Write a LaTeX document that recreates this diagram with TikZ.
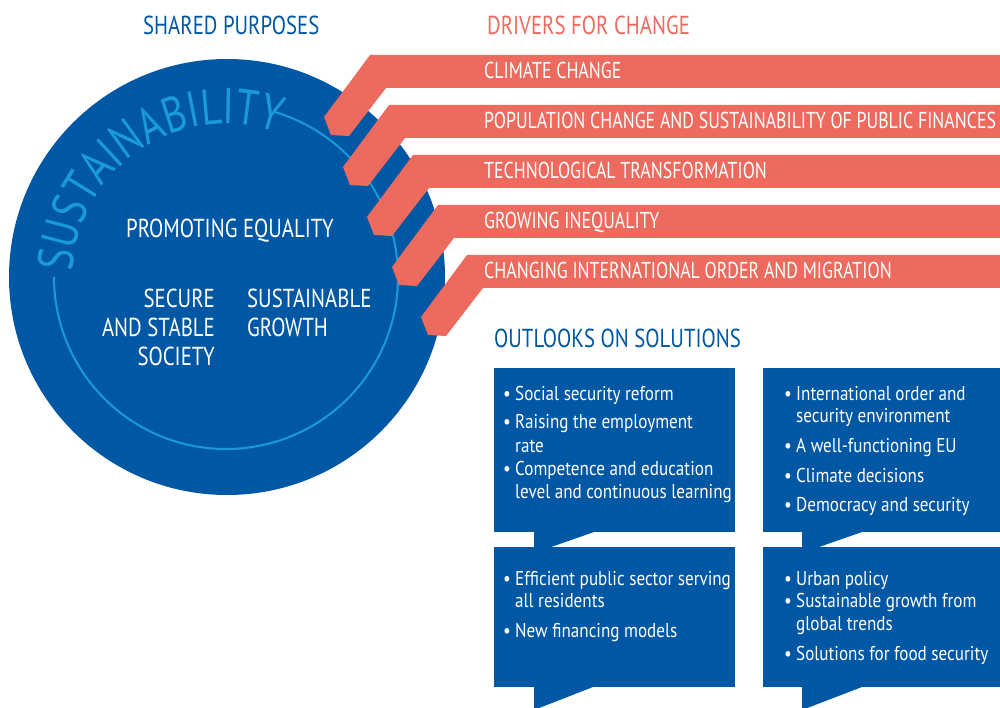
\documentclass[tikz,border=0pt]{standalone}
\usepackage{fontspec}
\setmainfont{PT Sans}
\newfontfamily\capf[FakeStretch=0.8]{PT Sans}
\newfontfamily\bandf[FakeStretch=0.775]{PT Sans}
\newfontfamily\lowf[FakeStretch=0.855]{PT Sans}
\usetikzlibrary{decorations.text}
\definecolor{fblue}{RGB}{0,87,164}
\definecolor{lblue}{RGB}{26,155,215}
\definecolor{salmon}{RGB}{236,107,94}
\newcommand\susfont{\capf\fontsize{50}{50}\selectfont}
\begin{document}
\begin{tikzpicture}[x=1pt,y=1pt,
  hdr/.style={font=\capf\fontsize{26}{26}\selectfont, inner sep=0, anchor=base west},
  bandtxt/.style={font=\bandf\fontsize{23}{23}\selectfont, text=white, inner sep=0, anchor=base west},
  circtxt/.style={font=\capf\fontsize{26}{26}\selectfont, text=white, inner sep=0},
  itm/.style={font=\lowf\fontsize{20}{20}\selectfont, text=white, inner sep=0, anchor=base west},
]
\useasboundingbox (0,-708) rectangle (1000,0);
\clip (0,-708) rectangle (1000,0);

% headers
\node[hdr, text=fblue] (hshared) at (143,-35) {SHARED PURPOSES};
\node[hdr, text=salmon] (hdrivers) at (487,-35) {DRIVERS FOR CHANGE};
\node[hdr, text=fblue] (hout) at (494,-347) {OUTLOOKS ON SOLUTIONS};

% circle
\fill[fblue] (227,-277) circle[radius=218];
\draw[lblue, line width=2] (226,-277) ++(180:172) arc[start angle=180, end angle=434, radius=172];
\path[decorate, decoration={text along path, text={|\susfont|SUSTAINABILITY}, text color=lblue, text align={fit to path}}]
  (226,-277) ++(178:153) arc[start angle=178, end angle=74, radius=153];

\node[circtxt, anchor=base] (equal) at (230,-238) {PROMOTING EQUALITY};
\node[circtxt, anchor=base east] (sec1) at (215,-307) {SECURE};
\node[circtxt, anchor=base east] (sec2) at (215,-336) {AND STABLE};
\node[circtxt, anchor=base east] (sec3) at (215,-365) {SOCIETY};
\node[circtxt, anchor=base west] (grow1) at (247,-307) {SUSTAINABLE};
\node[circtxt, anchor=base west] (grow2) at (247,-336) {GROWTH};

% bands
\foreach \cx/\ty/\nm/\txt in {370/55/climate/CLIMATE CHANGE,
  389/105/population/POPULATION CHANGE AND SUSTAINABILITY OF PUBLIC FINANCES,
  413/155/techno/TECHNOLOGICAL TRANSFORMATION,
  438/205/inequal/GROWING INEQUALITY,
  467/255/intl/CHANGING INTERNATIONAL ORDER AND MIGRATION}{
  \fill[salmon] (\cx,-\ty) -- ++(-46,-62) -- ++(7,-18) -- ++(18,-1) -- ++(37,48)
     -- (1000,{-\ty-33}) -- (1000,-\ty) -- cycle;
  \node[bandtxt] (\nm) at (484,{-\ty-24}) {\txt};
}

% bubbles
\fill[fblue] (494,-368) rectangle (735,-532);
\fill[fblue] (534,-532) -- (594,-532) -- (534,-553) -- cycle;
\fill[fblue] (763,-368) rectangle (1000,-532);
\fill[fblue] (802,-532) -- (862,-532) -- (802,-553) -- cycle;
\fill[fblue] (494,-547) rectangle (735,-687);
\fill[fblue] (534,-687) -- (593,-687) -- (534,-710) -- cycle;
\fill[fblue] (763,-547) rectangle (1000,-687);
\fill[fblue] (802,-687) -- (862,-687) -- (802,-710) -- cycle;

\newcommand\bul{\makebox[12pt][l]{•}}
% box 1
\node[itm] (a1) at (503,-400) {\bul Social security reform};
\node[itm] (a2) at (503,-428) {\bul Raising the employment};
\node[itm] (a2b) at (515,-452) {rate};
\node[itm] (a3) at (503,-475) {\bul Competence and education};
\node[itm] (a3b) at (515,-498) {level and continuous learning};
% box 2
\node[itm] (b1) at (784,-400) {\bul International order and};
\node[itm] (b1b) at (796,-422) {security environment};
\node[itm] (b2) at (784,-452) {\bul A well-functioning EU};
\node[itm] (b3) at (784,-482) {\bul Climate decisions};
\node[itm] (b4) at (784,-511) {\bul Democracy and security};
% box 3
\node[itm] (c1) at (503,-585) {\bul Efficient public sector serving};
\node[itm] (c1b) at (515,-607) {all residents};
\node[itm] (c2) at (503,-637) {\bul New financing models};
% box 4
\node[itm] (d1) at (784,-585) {\bul Urban policy};
\node[itm] (d2) at (784,-607) {\bul Sustainable growth from};
\node[itm] (d2b) at (796,-630) {global trends};
\node[itm] (d3) at (784,-660) {\bul Solutions for food security};
\end{tikzpicture}
\end{document}
